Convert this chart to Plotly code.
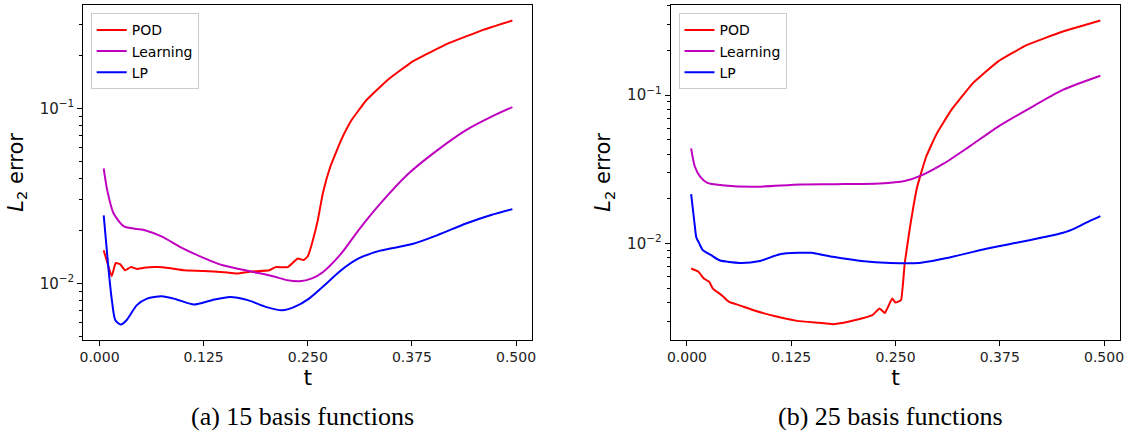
import plotly.graph_objects as go

# ---------------- data ----------------
# (a) 15 basis functions
t_a_pod = [0.005, 0.0146, 0.0194, 0.0246, 0.0306, 0.0374, 0.0454, 0.0533, 0.0694, 0.0853,
           0.101, 0.125, 0.149, 0.165, 0.182, 0.204, 0.211, 0.226, 0.238, 0.245, 0.250,
           0.255, 0.262, 0.268, 0.277, 0.290, 0.3026, 0.320, 0.3455, 0.3756, 0.4185, 0.4615, 0.4956]
pod_a = [0.0155, 0.0110, 0.0131, 0.0129, 0.0119, 0.0124, 0.0121, 0.0123, 0.0124, 0.0122,
         0.0119, 0.0118, 0.0116, 0.0114, 0.0117, 0.0119, 0.0124, 0.0124, 0.0139, 0.0136, 0.0143,
         0.0169, 0.0230, 0.0327, 0.0464, 0.0659, 0.0858, 0.111, 0.145, 0.185, 0.235, 0.282, 0.318]

t_a_learn = [0.005, 0.0092, 0.0169, 0.030, 0.0534, 0.075, 0.0964, 0.122, 0.148, 0.182, 0.208,
             0.225, 0.240, 0.255, 0.268, 0.290, 0.311, 0.337, 0.371, 0.4057, 0.440, 0.470, 0.4956]
learn_a = [0.0454, 0.0341, 0.0251, 0.0211, 0.0202, 0.0185, 0.0162, 0.0142, 0.0127, 0.0117, 0.0110,
           0.01045, 0.0103, 0.0107, 0.0116, 0.0148, 0.0202, 0.0286, 0.0425, 0.0578, 0.0752, 0.0895, 0.1017]

t_a_lp = [0.005, 0.0105, 0.0148, 0.019, 0.0255, 0.0324, 0.0448, 0.057, 0.0745, 0.0917, 0.1135,
          0.135, 0.1565, 0.178, 0.1995, 0.219, 0.234, 0.2515, 0.268, 0.290, 0.311, 0.337,
          0.3756, 0.4057, 0.440, 0.470, 0.4956]
lp_a = [0.0245, 0.01245, 0.00803, 0.00617, 0.00583, 0.00617, 0.00752, 0.0082, 0.00845, 0.00813, 0.00758,
        0.00803, 0.00838, 0.00803, 0.00735, 0.00703, 0.00735, 0.0082, 0.00957, 0.0119, 0.0139, 0.0154,
        0.0168, 0.0189, 0.0220, 0.0246, 0.0266]

# (b) 25 basis functions
t_b_pod = [0.005, 0.0138, 0.0202, 0.0267, 0.031, 0.0417, 0.0503, 0.0632, 0.080, 0.106, 0.132,
           0.158, 0.175, 0.192, 0.2094, 0.2223, 0.231, 0.2373, 0.246, 0.250, 0.2566, 0.261,
           0.2674, 0.276, 0.2867, 0.2996, 0.3168, 0.3426, 0.3727, 0.407, 0.450, 0.4956]
pod_b = [0.00678, 0.00645, 0.00581, 0.00551, 0.00497, 0.00448, 0.00404, 0.00383, 0.00355, 0.00323, 0.00301,
         0.00292, 0.00286, 0.00296, 0.00312, 0.00329, 0.00365, 0.0034, 0.00426, 0.0040, 0.00415, 0.00733,
         0.0129, 0.0241, 0.0384, 0.0552, 0.0792, 0.120, 0.168, 0.217, 0.267, 0.318]

t_b_learn = [0.005, 0.0095, 0.016, 0.0245, 0.042, 0.080, 0.136, 0.179, 0.231, 0.261, 0.282,
             0.308, 0.338, 0.3727, 0.407, 0.450, 0.4956]
learn_b = [0.0438, 0.0329, 0.0281, 0.0256, 0.0247, 0.0241, 0.0250, 0.0251, 0.0254, 0.0264, 0.0289,
           0.0346, 0.0448, 0.0611, 0.0792, 0.108, 0.135]

t_b_lp = [0.005, 0.0095, 0.0112, 0.0144, 0.019, 0.029, 0.039, 0.0635, 0.0875, 0.1115, 0.135,
          0.149, 0.175, 0.209, 0.244, 0.278, 0.315, 0.355, 0.395, 0.427, 0.451, 0.467, 0.483, 0.4956]
lp_b = [0.0215, 0.0130, 0.0110, 0.0101, 0.00902, 0.00834, 0.00771, 0.0074, 0.00763, 0.00847, 0.00865,
        0.00865, 0.00813, 0.00763, 0.0074, 0.0074, 0.00805, 0.00912, 0.0101, 0.0110, 0.0118, 0.0128, 0.0142, 0.0153]

series_names = ["POD", "Learning", "LP"]
series_colors = ["#ff0000", "#bf00bf", "#0000ff"]
series_smoothing = [0.3, 0.7, 0.7]
x_tick_vals = [0, 0.125, 0.25, 0.375, 0.5]
x_tick_text = ["0.000", "0.125", "0.250", "0.375", "0.500"]
y_tick_vals = [0.01, 0.1]
y_tick_text = ["10<sup>\u22122</sup>", "10<sup>\u22121</sup>"]
captions = ["(a) 15 basis functions", "(b) 25 basis functions"]

panels = [
    [(t_a_pod, pod_a), (t_a_learn, learn_a), (t_a_lp, lp_a)],
    [(t_b_pod, pod_b), (t_b_learn, learn_b), (t_b_lp, lp_b)],
]

# ---------------- figure ----------------
W, H = 1128, 433
FONT = "DejaVu Sans"
fig = go.Figure()

x_domains = [[83.3 / W, 532.3 / W], [670.7 / W, 1120.3 / W]]
y_domain = [1 - 339.5 / H, 1 - 5.3 / H]
y_ranges = [[-2.32, -0.411], [-2.647, -0.395]]
legend_names = ["legend", "legend2"]

minor_vals = []
for dec in [0.001, 0.01, 0.1]:
    for k in range(2, 10):
        minor_vals.append(k * dec)

for p, series in enumerate(panels):
    xa = "x" if p == 0 else "x2"
    ya = "y" if p == 0 else "y2"
    for i, (tt, vv) in enumerate(series):
        fig.add_trace(go.Scatter(
            x=tt, y=vv, mode="lines", name=series_names[i],
            line=dict(color=series_colors[i], width=2, shape="spline", smoothing=series_smoothing[i]),
            xaxis=xa, yaxis=ya, legend=legend_names[p],
            legendgroup=f"{p}_{i}",
        ))

axis_common = dict(
    showline=True, mirror=True, linecolor="black", linewidth=1,
    ticks="outside", ticklen=5, tickwidth=1, tickcolor="black",
    showgrid=False, zeroline=False,
)

for p in range(2):
    sx = "" if p == 0 else "2"
    fig.update_layout(**{
        f"xaxis{sx}": dict(
            domain=x_domains[p], range=[-0.0195, 0.5195], anchor=f"y{sx}",
            tickvals=x_tick_vals, ticktext=x_tick_text,
            tickfont=dict(family=FONT, size=14, color="#222222"),
            title=dict(text="t", font=dict(family=FONT, size=22, color="black"), standoff=4),
            **axis_common),
        f"yaxis{sx}": dict(
            domain=y_domain, type="log", range=y_ranges[p], anchor=f"x{sx}",
            tickvals=y_tick_vals, ticktext=y_tick_text,
            tickfont=dict(family=FONT, size=15, color="#222222"),
            minor=dict(tickvals=minor_vals, ticks="outside", ticklen=3, tickwidth=1, tickcolor="black"),
            title=dict(text="<i>L</i><sub>2</sub> error", font=dict(family=FONT, size=21, color="black"), standoff=10),
            **axis_common),
    })

legend_style = dict(
    font=dict(family=FONT, size=14, color="black"),
    bgcolor="rgba(255,255,255,0.8)", bordercolor="#cccccc", borderwidth=1,
    xanchor="left", yanchor="top", traceorder="grouped", tracegroupgap=0,
    itemwidth=30,
)
fig.update_layout(
    legend=dict(x=90.7 / W, y=1 - 13.3 / H, **legend_style),
    legend2=dict(x=678.5 / W, y=1 - 13.3 / H, **legend_style),
)

for p in range(2):
    cx = (x_domains[p][0] + x_domains[p][1]) / 2
    fig.add_annotation(
        text=captions[p], x=cx - 5 / W, y=1 - 416.5 / H, xref="paper", yref="paper",
        xanchor="center", yanchor="middle", showarrow=False,
        font=dict(family="Liberation Serif", size=26, color="black"),
    )

fig.update_layout(
    width=W, height=H, margin=dict(l=0, r=0, t=0, b=0, autoexpand=False),
    paper_bgcolor="white", plot_bgcolor="white", showlegend=True,
)

fig.write_html("out.html", config={"displayModeBar": False},
               post_script="document.body.style.margin='0px';")
